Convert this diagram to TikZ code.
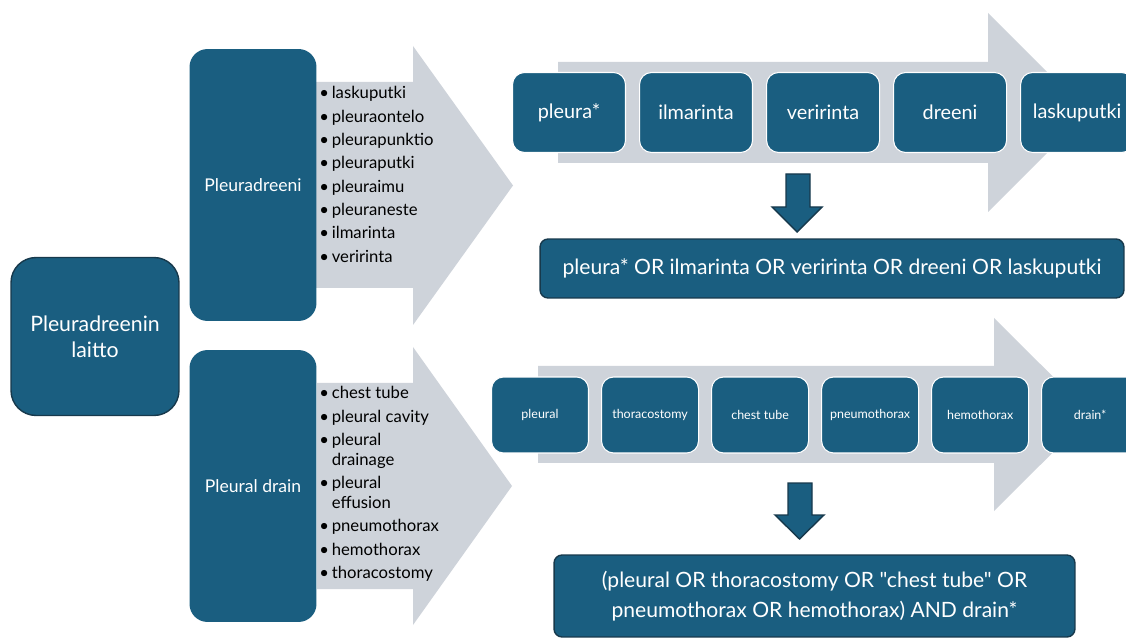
\documentclass[tikz,border=0pt]{standalone}
\usepackage{fontspec}
\setmainfont{Lato}[Ligatures=TeXOff]
\usetikzlibrary{positioning}
\definecolor{nodeblue}{HTML}{1A5E80}
\definecolor{edgeblue}{HTML}{17394C}
\definecolor{flowgrey}{HTML}{CED3DA}
\newcommand{\itm}{\textbullet\,}
\newcommand{\hang}{\hphantom{\textbullet\,}}

\begin{document}
\begin{tikzpicture}[x=0.02cm, y=-0.02cm,
    rootbox/.style={draw=edgeblue, line width=0.8pt, fill=nodeblue, rounded corners=0.5cm, minimum width=3.36cm, minimum height=3.16cm, align=center, text=white, font=\fontsize{12.1}{14.8}\selectfont},
    catbox/.style={fill=nodeblue, rounded corners=0.36cm, minimum width=2.54cm, minimum height=5.44cm, align=center, text=white, font=\fontsize{10}{12}\selectfont},
    termbox/.style={draw=white, line width=0.6pt, fill=nodeblue, rounded corners=0.24cm, minimum width=2.26cm, minimum height=1.6cm, text=white, font=\fontsize{11.3}{13}\selectfont},
    smallterm/.style={termbox, minimum width=1.94cm, minimum height=1.52cm, font=\fontsize{7.1}{8}\selectfont},
    resultbox/.style={draw=edgeblue, line width=0.8pt, fill=nodeblue, rounded corners=0.16cm, align=center, text=white, font=\fontsize{12}{15.3}\selectfont},
    termlist/.style={anchor=north west, inner sep=0pt, align=left, font=\fontsize{9.5}{11.3}\selectfont},
    flow/.style={fill=flowgrey},
    downarrow/.style={fill=nodeblue, draw=edgeblue, line width=0.8pt}
]
\useasboundingbox (0,0) rectangle (1126,638);
\clip (0,0) rectangle (1126,638);

% grey flow arrows
\fill[flow] (316,82) -- (413,82) -- (413,46) -- (513,185.5) -- (413,325) -- (413,288) -- (316,288) -- cycle;
\fill[flow] (317,383) -- (413,383) -- (413,347) -- (512,486) -- (413,625) -- (413,589) -- (317,589) -- cycle;
\fill[flow] (558,62) -- (988,62) -- (988,13) -- (1087.5,112.5) -- (988,212) -- (988,163) -- (558,163) -- cycle;
\fill[flow] (538,366) -- (994,366) -- (994,318) -- (1091,414.5) -- (994,511) -- (994,463) -- (538,463) -- cycle;

% left side
\node[rootbox] (root) at (95,336.5) {Pleuradreenin\\laitto};
\node[catbox] (fi) at (253,185) {Pleuradreeni};
\node[catbox] (en) at (253,486) {Pleural drain};

\node[termlist] (filist) at (319,86) {\itm laskuputki\\[2pt] \itm pleuraontelo\\[2pt] \itm pleurapunktio\\[2pt] \itm pleuraputki\\[2pt] \itm pleuraimu\\[2pt] \itm pleuraneste\\[2pt] \itm ilmarinta\\[2pt] \itm veririnta};
\node[termlist] (enlist) at (319,386) {\itm chest tube\\[2pt] \itm pleural cavity\\[2pt] \itm pleural\\ \hang drainage\\[2pt] \itm pleural\\ \hang effusion\\[2pt] \itm pneumothorax\\[2pt] \itm hemothorax\\[2pt] \itm thoracostomy};

% Finnish search terms
\node[termbox] (fi1) at (569,112.5) {pleura*};
\node[termbox, right=0.26cm of fi1] (fi2) {ilmarinta};
\node[termbox, right=0.26cm of fi2] (fi3) {veririnta};
\node[termbox, right=0.26cm of fi3] (fi4) {dreeni};
\node[termbox, right=0.26cm of fi4] (fi5) {laskuputki};

\draw[downarrow] (786,174) -- (810,174) -- (810,207) -- (822,207) -- (797,232) -- (772,207) -- (786,207) -- cycle;
\node[resultbox, minimum width=11.68cm, minimum height=1.18cm] (fiquery) at (832,268.5) {pleura* OR ilmarinta OR veririnta OR dreeni OR laskuputki};

% English search terms
\node[smallterm] (en1) at (540,415) {pleural};
\node[smallterm, right=0.24cm of en1] (en2) {thoracostomy};
\node[smallterm, right=0.24cm of en2] (en3) {chest tube};
\node[smallterm, right=0.24cm of en3] (en4) {pneumothorax};
\node[smallterm, right=0.24cm of en4] (en5) {hemothorax};
\node[smallterm, right=0.24cm of en5] (en6) {drain*};

\draw[downarrow] (788,483) -- (812,483) -- (812,515) -- (824,515) -- (799.5,539) -- (775,515) -- (788,515) -- cycle;
\node[resultbox, minimum width=10.42cm, minimum height=1.64cm] (enquery) at (814.5,596) {(pleural OR thoracostomy OR "chest tube" OR\\[1.5pt]pneumothorax OR hemothorax) AND drain*};
\end{tikzpicture}
\end{document}
